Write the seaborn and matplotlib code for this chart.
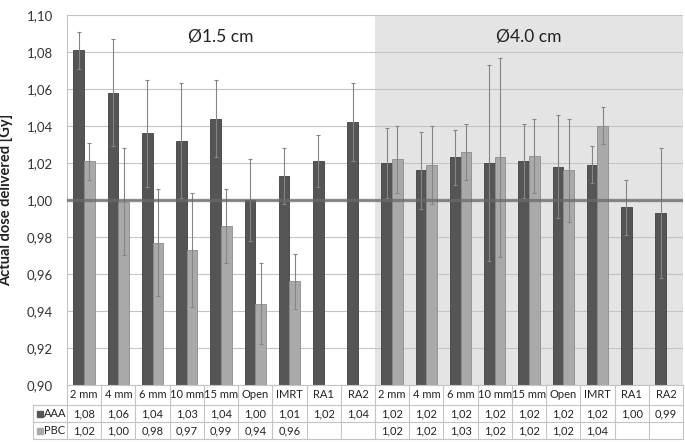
import numpy as np
import pandas as pd
import matplotlib
matplotlib.use("Agg")
import matplotlib.pyplot as plt
import matplotlib.transforms as mtransforms
from matplotlib.ticker import FuncFormatter, MultipleLocator
import seaborn as sns

# ---------------- data ----------------
panels = ["Ø1.5 cm", "Ø4.0 cm"]
fields = ["2 mm", "4 mm", "6 mm", "10 mm", "15 mm", "Open", "IMRT", "RA1", "RA2"]

aaa_15 = [1.081, 1.058, 1.036, 1.032, 1.044, 1.000, 1.013, 1.021, 1.042]
pbc_15 = [1.021, 0.999, 0.977, 0.973, 0.986, 0.944, 0.956, np.nan, np.nan]
aaa_40 = [1.020, 1.016, 1.023, 1.020, 1.021, 1.018, 1.019, 0.996, 0.993]
pbc_40 = [1.022, 1.019, 1.026, 1.023, 1.024, 1.016, 1.040, np.nan, np.nan]

aaa_15_err = [0.010, 0.029, 0.029, 0.031, 0.021, 0.022, 0.015, 0.014, 0.021]
pbc_15_err = [0.010, 0.029, 0.029, 0.031, 0.020, 0.022, 0.015, np.nan, np.nan]
aaa_40_err = [0.019, 0.021, 0.015, 0.053, 0.020, 0.028, 0.010, 0.015, 0.035]
pbc_40_err = [0.018, 0.021, 0.015, 0.054, 0.020, 0.028, 0.010, np.nan, np.nan]

methods = ["AAA", "PBC"]
colors = {"AAA": "#555555", "PBC": "#a9a9a9"}
edges = {"AAA": "#404040", "PBC": "#8c8c8c"}

series = {
    panels[0]: {"AAA": (aaa_15, aaa_15_err), "PBC": (pbc_15, pbc_15_err)},
    panels[1]: {"AAA": (aaa_40, aaa_40_err), "PBC": (pbc_40, pbc_40_err)},
}

rows = []
for p in panels:
    for m in methods:
        vals, errs = series[p][m]
        for f, v, e in zip(fields, vals, errs):
            if not np.isnan(v):
                rows.append({"pos": f"{p} {f}", "method": m, "dose": v, "err": e})
df = pd.DataFrame(rows)
order = [f"{p} {f}" for p in panels for f in fields]

# ---------------- figure ----------------
sns.set_style("white")
plt.rcParams["font.family"] = ["Lato", "DejaVu Sans"]

fig = plt.figure(figsize=(6.85, 4.42), dpi=100)
ax = fig.add_axes([67 / 685, 1 - 385 / 442, 616 / 685, 370 / 442])

ax.axvspan(8.5, 17.5, color="#e4e4e4", zorder=0, lw=0)

sns.barplot(data=df, x="pos", y="dose", hue="method", order=order,
            hue_order=methods, palette=colors, width=0.625, errorbar=None,
            saturation=1, legend=False, ax=ax, zorder=2)

# edges + error bars
err_lookup = {(r.pos, r.method): r.err for r in df.itertuples()}
for m, cont in zip(methods, ax.containers):
    xs, hs, es = [], [], []
    for patch in cont.patches:
        patch.set_edgecolor(edges[m])
        patch.set_linewidth(0.6)
        cx = patch.get_x() + patch.get_width() / 2
        h = patch.get_height()
        if np.isnan(h):
            continue
        pos = order[int(round(cx))]
        xs.append(cx)
        hs.append(h)
        es.append(err_lookup[(pos, m)])
    ax.errorbar(xs, hs, yerr=es, fmt="none", ecolor="#858585", elinewidth=0.8,
                capsize=1.6, capthick=0.8, zorder=3)

ax.axhline(1.0, color="#6a6a6a", lw=2.4, alpha=0.75, zorder=4)

ax.set_xlim(-0.5, 17.5)
ax.set_ylim(0.90, 1.10)
ax.yaxis.set_major_locator(MultipleLocator(0.02))
ax.yaxis.set_major_formatter(FuncFormatter(lambda v, _: f"{v:.2f}".replace(".", ",")))
ax.yaxis.grid(True, color="#c4c4c4", lw=0.8)
ax.set_axisbelow(True)
ax.set_xticks([])
ax.set_xlabel("")
ax.tick_params(axis="y", length=0, pad=10, labelsize=9.5, labelcolor="#333333")
for s in ["top", "right", "bottom"]:
    ax.spines[s].set_visible(False)
ax.spines["left"].set_color("#c4c4c4")
ax.spines["left"].set_linewidth(0.8)

ax.set_ylabel("Actual dose delivered [Gy]", fontweight="bold", fontsize=10.5,
              color="#222222")
ax.yaxis.set_label_coords(-0.088, 0.5)

for i, p in enumerate(panels):
    ax.text(4 + 9 * i, 1.088, p, ha="center", va="center", fontsize=12.5,
            color="#222222")

# ---------------- data table ----------------
trans = mtransforms.blended_transform_factory(ax.transData, ax.transAxes)
ylv = [0.0, -20 / 370, -37 / 370, -54 / 370]
lc = "#c4c4c4"
kw = dict(transform=trans, clip_on=False, color=lc, lw=0.8)
ax.plot([-0.5, 17.5], [ylv[0], ylv[0]], **kw)
for y in ylv[1:]:
    ax.plot([-1.5, 17.5], [y, y], **kw)
for k in range(19):
    ax.plot([k - 0.5, k - 0.5], [ylv[0], ylv[3]], **kw)
ax.plot([-1.5, -1.5], [ylv[1], ylv[3]], **kw)

tkw = dict(transform=trans, clip_on=False, ha="center", va="center",
           fontsize=8, color="#222222")
labels = fields + fields
for k, lab in enumerate(labels):
    ax.text(k, (ylv[0] + ylv[1]) / 2, lab, **tkw)

fmt = lambda v: "" if np.isnan(v) else f"{v:.2f}".replace(".", ",")
row_vals = {"AAA": aaa_15 + aaa_40, "PBC": pbc_15 + pbc_40}
for r, m in enumerate(methods):
    ymid = (ylv[r + 1] + ylv[r + 2]) / 2
    for k, v in enumerate(row_vals[m]):
        ax.text(k, ymid, fmt(v), **tkw)
    ax.plot([-1.3], [ymid], marker="s", markersize=4.2, color=colors[m],
            transform=trans, clip_on=False, lw=0)
    ax.text(-1.17, ymid, m, transform=trans, clip_on=False, ha="left",
            va="center", fontsize=8, color="#222222")

fig.savefig("out.png", dpi=100)
